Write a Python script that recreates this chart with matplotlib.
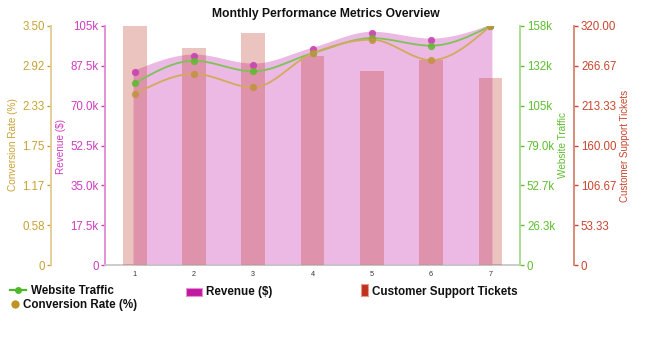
import numpy as np
import matplotlib
matplotlib.use("Agg")
import matplotlib.pyplot as plt
from matplotlib.patches import Rectangle
from matplotlib.lines import Line2D

plt.rcParams['font.family'] = ['Liberation Sans', 'DejaVu Sans']

# ---------------- data ----------------
months = [1, 2, 3, 4, 5, 6, 7]
month_labels = ['1', '2', '3', '4', '5', '6', '7']
website_traffic = [120000, 135000, 128000, 140000, 150000, 145000, 158000]
revenue = [85000, 92000, 88000, 95000, 102000, 99000, 105000]
support_tickets = [320, 290, 310, 280, 260, 275, 250]
conversion_rate = [2.5, 2.8, 2.6, 3.1, 3.3, 3.0, 3.5]

conv_tick_labels = ['0', '0.58', '1.17', '1.75', '2.33', '2.92', '3.50']
rev_tick_labels = ['0', '17.5k', '35.0k', '52.5k', '70.0k', '87.5k', '105k']
traffic_tick_labels = ['0', '26.3k', '52.7k', '79.0k', '105k', '132k', '158k']
ticket_tick_labels = ['0', '53.33', '106.67', '160.00', '213.33', '266.67', '320.00']

# ---------------- colours ----------------
C_GOLD_T = '#c9a233'
C_MAG_T = '#cf3cc0'
C_GREEN_T = '#5fbd2f'
C_RED_T = '#c9452f'

W, H = 650, 343
fig = plt.figure(figsize=(W / 100, H / 100), dpi=100)


def fx(px):
    return px / W


def fy(py):
    return 1 - py / H


def monotone_x(x, y, n=40):
    x = np.asarray(x, float)
    y = np.asarray(y, float)
    h = np.diff(x)
    s = np.diff(y) / h
    m = np.zeros_like(y)
    for i in range(1, len(x) - 1):
        h0, h1 = h[i - 1], h[i]
        s0, s1 = s[i - 1], s[i]
        p = (s0 * h1 + s1 * h0) / (h0 + h1)
        m[i] = (np.sign(s0) + np.sign(s1)) * min(abs(s0), abs(s1), 0.5 * abs(p))
    m[0] = (3 * s[0] - m[1]) / 2
    m[-1] = (3 * s[-1] - m[-2]) / 2
    xs, ys = [], []
    for i in range(len(x) - 1):
        t = np.linspace(0, 1, n, endpoint=(i == len(x) - 2))
        h00 = 2 * t**3 - 3 * t**2 + 1
        h10 = t**3 - 2 * t**2 + t
        h01 = -2 * t**3 + 3 * t**2
        h11 = t**3 - t**2
        xs.append(x[i] + t * h[i])
        ys.append(h00 * y[i] + h10 * h[i] * m[i] + h01 * y[i + 1] + h11 * h[i] * m[i + 1])
    return np.concatenate(xs), np.concatenate(ys)


L, R, T, B = 105, 520, 26, 265
pw = R - L
ax = fig.add_axes([fx(L), fy(B), fx(R - L), (B - T) / H])

ticks_k = np.linspace(0, 1, 7)

# revenue area (base axes)
ax.set_xlim(0.5, 7.5)
ax.set_ylim(0, max(revenue))
xs, ys = monotone_x(months, revenue)
ax.fill_between(xs, 0, ys, facecolor='#ebb9e3', edgecolor='#ebb9e3', linewidth=2.2, zorder=1)
for sp in ['top', 'right']:
    ax.spines[sp].set_visible(False)
ax.spines['left'].set_color('#e08ad6')
ax.spines['left'].set_linewidth(1.3)
ax.spines['bottom'].set_color('#c4c4c4')
ax.spines['bottom'].set_linewidth(1.2)
ax.set_yticks(ticks_k * max(revenue))
ax.set_yticklabels(rev_tick_labels)
ax.tick_params(axis='y', colors=C_MAG_T, length=3, width=1, pad=1.5, labelsize=8.3)
ax.set_xticks(months)
ax.set_xticklabels(month_labels)
ax.tick_params(axis='x', length=0, pad=4.5, labelsize=5.2, labelcolor='#333333')

# support tickets bars
ax_t = ax.twinx()
ax_t.set_ylim(0, max(support_tickets))
ax_t.bar(months, support_tickets, width=0.4, color='#c0392b', alpha=0.3, linewidth=0)
for sp in ['top', 'left', 'bottom']:
    ax_t.spines[sp].set_visible(False)
ax_t.spines['right'].set_position(('axes', 1 + 54 / pw))
ax_t.spines['right'].set_color('#d9826f')
ax_t.spines['right'].set_linewidth(1.3)
ax_t.set_yticks(ticks_k * max(support_tickets))
ax_t.set_yticklabels(ticket_tick_labels)
ax_t.tick_params(axis='y', colors=C_RED_T, length=3, width=1, pad=2, labelsize=8.3)

# revenue dots
ax_rd = ax.twinx()
ax_rd.set_ylim(0, max(revenue))
ax_rd.plot(months, revenue, 'o', color='#c843b3', markersize=5.2, markeredgewidth=0, alpha=0.9)
ax_rd.axis('off')

# website traffic
ax_w = ax.twinx()
ax_w.set_ylim(0, max(website_traffic))
xs, ys = monotone_x(months, website_traffic)
ax_w.plot(xs, ys, color='#7ec356', linewidth=1.3)
ax_w.plot(months, website_traffic, 'o', color='#5fb830', markersize=5.2, markeredgewidth=0, alpha=0.85)
for sp in ['top', 'left', 'bottom']:
    ax_w.spines[sp].set_visible(False)
ax_w.spines['right'].set_color('#a6da8c')
ax_w.spines['right'].set_linewidth(1.3)
ax_w.set_yticks(ticks_k * max(website_traffic))
ax_w.set_yticklabels(traffic_tick_labels)
ax_w.tick_params(axis='y', colors=C_GREEN_T, length=3, width=1, pad=2, labelsize=8.3)

# conversion rate
ax_c = ax.twinx()
ax_c.set_ylim(0, max(conversion_rate))
xs, ys = monotone_x(months, conversion_rate)
ax_c.plot(xs, ys, color='#d3aa5c', linewidth=1.3)
ax_c.plot(months, conversion_rate, 'o', color='#c0913a', markersize=5.2, markeredgewidth=0, alpha=0.8)
for sp in ['top', 'right', 'bottom']:
    ax_c.spines[sp].set_visible(False)
ax_c.yaxis.tick_left()
ax_c.spines['left'].set_position(('axes', -54 / pw))
ax_c.spines['left'].set_color('#e2cc92')
ax_c.spines['left'].set_linewidth(1.3)
ax_c.set_yticks(ticks_k * max(conversion_rate))
ax_c.set_yticklabels(conv_tick_labels)
ax_c.tick_params(axis='y', colors=C_GOLD_T, length=3, width=1, pad=1.5, labelsize=8.3)

# axis titles
fig.text(fx(13.5), fy(145), 'Conversion Rate (%)', rotation=90, ha='center', va='center',
         color=C_GOLD_T, fontsize=7.2)
fig.text(fx(61), fy(147), 'Revenue ($)', rotation=90, ha='center', va='center',
         color=C_MAG_T, fontsize=7.2)
fig.text(fx(563.5), fy(145), 'Website Traffic', rotation=90, ha='center', va='center',
         color=C_GREEN_T, fontsize=7.2)
fig.text(fx(625), fy(146), 'Customer Support Tickets', rotation=90, ha='center', va='center',
         color=C_RED_T, fontsize=7.0)

# title
fig.text(fx(326), fy(13.5), 'Monthly Performance Metrics Overview', ha='center', va='center',
         fontsize=8.7, fontweight='bold', color='#111111')

# legend
lg_fs = 8.4
fig.add_artist(Line2D([fx(10), fx(26)], [fy(290), fy(290)], color='#4cb82a', linewidth=1.6,
                      transform=fig.transFigure))
fig.add_artist(Line2D([fx(18)], [fy(290)], marker='o', markersize=5, color='#4cb82a',
                      markeredgewidth=0, transform=fig.transFigure))
fig.text(fx(31.5), fy(290), 'Website Traffic', ha='left', va='center_baseline', fontsize=lg_fs,
         fontweight='bold', color='#111111')
fig.add_artist(Rectangle((fx(186), fy(295.5)), fx(16), 8 / H, facecolor='#bf1a9f',
                         edgecolor='#e88fd6', linewidth=0.8, transform=fig.transFigure))
fig.text(fx(206), fy(290), 'Revenue ($)', ha='left', va='center_baseline', fontsize=lg_fs,
         fontweight='bold', color='#111111')
fig.add_artist(Rectangle((fx(361), fy(296)), fx(7), 12 / H, facecolor='#c0321e',
                         edgecolor='#e79a8c', linewidth=0.8, transform=fig.transFigure))
fig.text(fx(372), fy(290), 'Customer Support Tickets', ha='left', va='center_baseline',
         fontsize=lg_fs, fontweight='bold', color='#111111')
fig.add_artist(Line2D([fx(15)], [fy(303.5)], marker='o', markersize=6, color='#bf9424',
                      markeredgewidth=0, transform=fig.transFigure))
fig.text(fx(23), fy(303.5), 'Conversion Rate (%)', ha='left', va='center_baseline',
         fontsize=lg_fs, fontweight='bold', color='#111111')

fig.savefig('out.png', dpi=100)
